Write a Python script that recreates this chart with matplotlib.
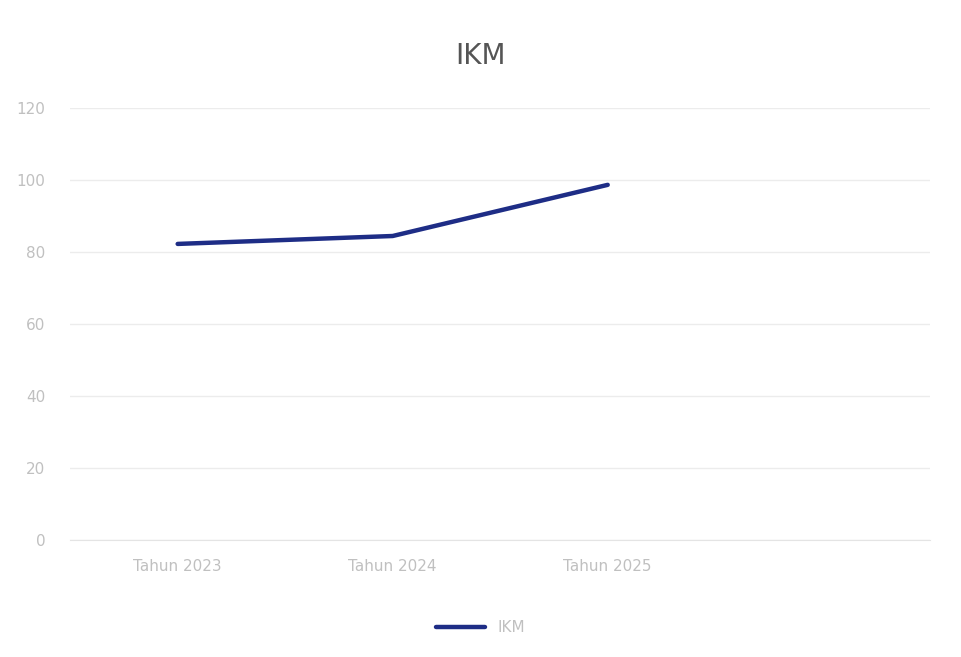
import numpy as np
import matplotlib.pyplot as plt

kategori = ["Tahun 2023", "Tahun 2024", "Tahun 2025", ""]
nilai_ikm = [82.2, 84.4, 98.6]
yticks = [0, 20, 40, 60, 80, 100, 120]

fig = plt.figure(figsize=(9.61, 6.57), dpi=100)
ax = fig.add_axes([0.073, 0.178, 0.895, 0.658])

x = np.arange(len(kategori))
garis, = ax.plot(x[:len(nilai_ikm)], nilai_ikm, color="#1e2d86", lw=3.2,
                 solid_capstyle="round", label="IKM")

ax.set_xlim(-0.5, len(kategori) - 0.5)
ax.set_ylim(0, 120)
ax.set_yticks(yticks)
ax.set_xticks(x)
ax.set_xticklabels(kategori)
ax.grid(axis="y", color="#ececec", lw=1)
ax.set_axisbelow(True)
for s in ["top", "right", "left"]:
    ax.spines[s].set_visible(False)
ax.spines["bottom"].set_color("#e4e4e4")
ax.tick_params(axis="both", length=0, colors="#c0c0c0", labelsize=11)
ax.tick_params(axis="x", pad=14)
ax.tick_params(axis="y", pad=18)

fig.text(0.5, 0.915, "IKM", ha="center", va="center", fontsize=20,
         color="#555555")

fig.legend(handles=[garis], loc="center", bbox_to_anchor=(0.5, 0.045),
           frameon=False, fontsize=11, labelcolor="#c0c0c0",
           handlelength=3.2)

fig.savefig("out.png", dpi=100, facecolor="white")
